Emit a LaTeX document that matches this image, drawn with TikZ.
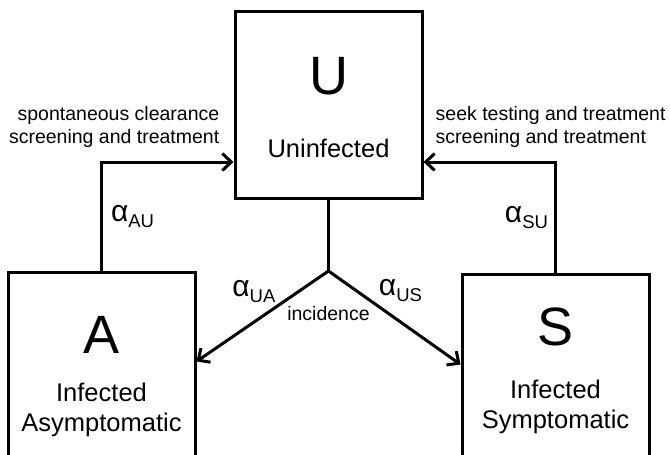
\documentclass[tikz,border=0pt]{standalone}
\usepackage{fontspec}
\setmainfont{Liberation Sans}
\usetikzlibrary{arrows.meta, positioning}
\newcommand{\rate}[1]{{\fontsize{30}{30}\selectfont α}\raisebox{-6pt}{\fontsize{18.5}{18.5}\selectfont #1}}
\tikzset{
  compartment/.style={
    rectangle,
    draw=black,
    line width=3pt,
    minimum width=187pt,
    minimum height=187pt,
    inner sep=0pt
  },
  letter/.style={
    font=\fontsize{54}{54}\selectfont,
    inner sep=0pt,
    anchor=base
  },
  state/.style={
    font=\fontsize{25.5}{30}\selectfont,
    align=center,
    inner sep=0pt
  },
  note/.style={
    font=\fontsize{19.5}{23}\selectfont,
    inner sep=0pt
  },
  ratelabel/.style={
    inner sep=0pt
  },
  flow/.style={
    -{Straight Barb[length=9pt, width=17pt]},
    line width=3pt
  },
  link/.style={
    line width=3pt
  }
}

\begin{document}
\begin{tikzpicture}[x=1pt, y=-1pt]
    \useasboundingbox (0,0) rectangle (670,455);
    \node[compartment] (U) at (328.5,105) {};
    \node[compartment, below left=71pt and 37pt of U] (A) {};
    \node[compartment, below right=73pt and 37pt of U] (S) {};

    \node[letter] (Uname) at ([yshift=-84pt]U.north) {U};
    \node[state, anchor=base] (Ulabel) at ([yshift=-147pt]U.north) {Uninfected};
    \node[letter] (Aname) at ([yshift=-82pt]A.north) {A};
    \node[state] (Alabel) at ([yshift=-139pt]A.north) {Infected\\Asymptomatic};
    \node[letter] (Sname) at ([yshift=-72pt]S.north) {S};
    \node[state] (Slabel) at ([yshift=-134pt]S.north) {Infected\\Symptomatic};

    \coordinate (split) at (U.south |- A.north);
    \node[note, below=35pt of split] (incidence) {incidence};
    \node[note, align=right, above left=52pt and 14pt of U.south west] (Anote) {spontaneous clearance\\screening and treatment};
    \node[note, align=left, above right=52pt and 12pt of U.south east] (Snote) {seek testing and treatment\\screening and treatment};

    \draw[link] (U.south) -- (split);
    \draw[flow] (split) -- node[ratelabel, pos=0.38, above left=2pt] (rUA) {\rate{UA}} ([yshift=4.5pt]A.east);
    \draw[flow] (split) -- node[ratelabel, pos=0.36, above right=2pt] (rUS) {\rate{US}} ([yshift=3.5pt]S.west);
    \draw[flow] (A.north) |- node[ratelabel, pos=0.25, right=8pt] (rAU) {\rate{AU}} ([yshift=38pt]U.south west);
    \draw[flow] (S.north) |- node[ratelabel, pos=0.25, left=6pt] (rSU) {\rate{SU}} ([yshift=38pt]U.south east);
\end{tikzpicture}
\end{document}
